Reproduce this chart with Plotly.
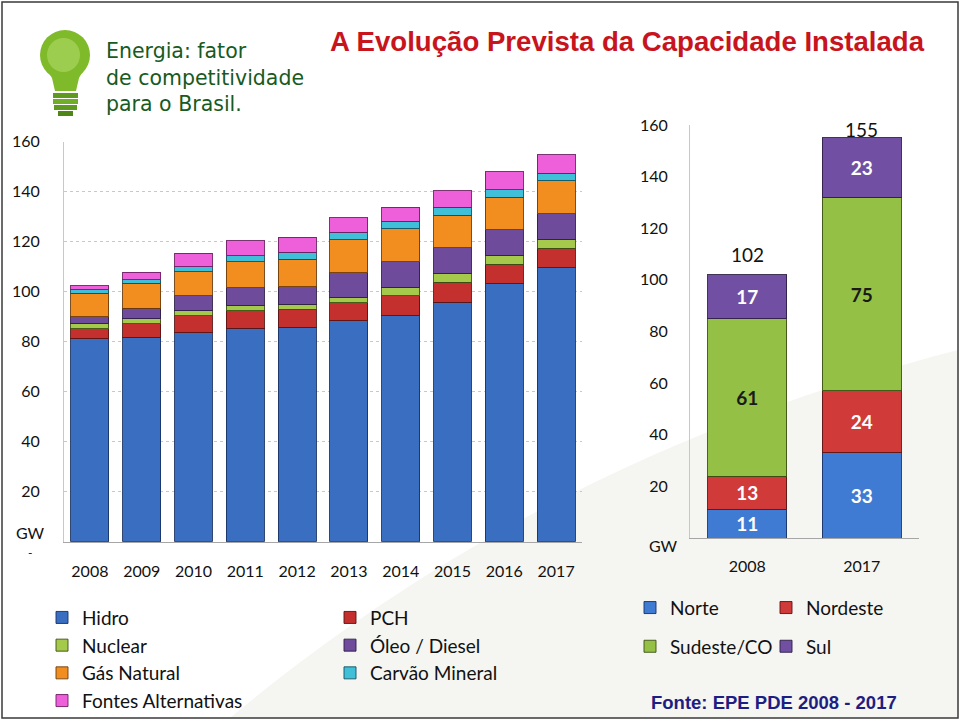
import plotly.graph_objects as go

# ---------------- data ----------------
years = ["2008", "2009", "2010", "2011", "2012", "2013", "2014", "2015", "2016", "2017"]
hidro = [81.1, 81.7, 83.6, 85.3, 85.8, 88.3, 90.4, 95.8, 103.1, 109.6]
pch = [4.0, 5.4, 6.7, 7.0, 7.2, 7.3, 8.0, 8.0, 7.9, 7.8]
nuclear = [2.0, 2.0, 2.0, 2.0, 2.0, 2.0, 3.4, 3.4, 3.4, 3.4]
oleo_diesel = [2.9, 4.2, 6.0, 7.3, 7.0, 10.0, 10.2, 10.4, 10.3, 10.4]
gas_natural = [9.3, 10.1, 9.7, 10.4, 11.0, 13.2, 13.1, 12.9, 13.1, 13.1]
carvao = [1.4, 1.4, 2.0, 2.4, 2.8, 3.0, 3.1, 3.3, 2.9, 3.0]
alternativas = [1.7, 2.9, 5.3, 5.9, 6.0, 5.8, 5.6, 6.6, 7.3, 7.4]

region_years = ["2008", "2017"]
norte = [11, 33]
nordeste = [13, 24]
sudeste_co = [61, 75]
sul = [17, 23]

y_ticks = [0, 20, 40, 60, 80, 100, 120, 140, 160]
y_ticktext = ["", "20", "40", "60", "80", "100", "120", "140", "160"]

W, H = 960, 727
def px(x):
    return x / W
def py(y):
    return 1 - y / H

FONT = "Lato, 'Open Sans', sans-serif"
ARIAL = "'Liberation Sans', Arial, sans-serif"

fig = go.Figure()

# ---------------- left chart: stacked sources ----------------
left_series = [
    ("Hidro", hidro, "#3A6EC0", "legend", "rgba(25,50,100,0.9)"),
    ("PCH", pch, "#C4302E", "legend2", "rgba(90,20,20,0.9)"),
    ("Nuclear", nuclear, "#A4C94B", "legend", "rgba(60,80,20,0.9)"),
    ("Óleo / Diesel", oleo_diesel, "#6F4B9C", "legend2", "rgba(45,30,70,0.9)"),
    ("Gás Natural", gas_natural, "#F28E1F", "legend", "rgba(110,60,10,0.9)"),
    ("Carvão Mineral", carvao, "#3FBFD8", "legend2", "rgba(20,80,95,0.9)"),
    ("Fontes Alternativas", alternativas, "#EE5FDA", "legend", "rgba(110,30,100,0.9)"),
]
for name, vals, col, lg, lcol in left_series:
    fig.add_trace(go.Bar(
        x=years, y=vals, name=name, width=0.73,
        marker=dict(color=col, line=dict(color=lcol, width=1)),
        xaxis="x", yaxis="y", legend=lg, legendgroup=name,
        hovertemplate="%{x}: %{y} GW<extra>" + name + "</extra>",
    ))

# ---------------- right chart: stacked regions ----------------
right_series = [
    ("Norte", norte, "#3F7BD2", "legend3", "white", "rgba(25,50,100,0.9)"),
    ("Nordeste", nordeste, "#D03A38", "legend4", "white", "rgba(90,20,20,0.9)"),
    ("Sudeste/CO", sudeste_co, "#94C045", "legend3", "#1a1a1a", "rgba(60,80,20,0.9)"),
    ("Sul", sul, "#7150A3", "legend4", "white", "rgba(45,30,70,0.9)"),
]
for name, vals, col, lg, tcol, lcol in right_series:
    fig.add_trace(go.Bar(
        x=region_years, y=vals, name=name, width=0.69,
        marker=dict(color=col, line=dict(color=lcol, width=1)),
        text=[str(v) for v in vals], textposition="inside",
        insidetextanchor="middle", textangle=0, constraintext="none",
        textfont=dict(family=FONT, size=19, color=tcol, weight="bold"),
        xaxis="x2", yaxis="y2", legend=lg, legendgroup=name,
        hovertemplate="%{x}: %{y} GW<extra>" + name + "</extra>",
    ))

totals = [a + b + c + d for a, b, c, d in zip(norte, nordeste, sudeste_co, sul)]
total_shift = [20, 8]
annotations = []
for i, (tot, sh) in enumerate(zip(totals, total_shift)):
    annotations.append(dict(
        x=i, y=tot, xref="x2", yref="y2", text=str(tot), showarrow=False,
        xanchor="center", yanchor="middle",
        yshift=sh, font=dict(family=FONT, size=19, color="#111111"),
    ))

def txt(x, y, text, font, xanchor="center"):
    return dict(x=px(x), y=py(y), xref="paper", yref="paper", text=text,
                showarrow=False, xanchor=xanchor, yanchor="middle", font=font)

annotations += [
    txt(30, 532, "GW", dict(family=FONT, size=16, color="#111111")),
    txt(30, 552, "-", dict(family=FONT, size=12, color="#111111")),
    txt(663, 545, "GW", dict(family=FONT, size=16, color="#111111")),
    txt(328, 42, "<b>A Evolução Prevista da Capacidade Instalada</b>",
        dict(family=ARIAL, size=27.6, color="#C8141C"), "left"),
    txt(649, 702, "<b>Fonte: EPE PDE 2008 - 2017</b>",
        dict(family=ARIAL, size=18.5, color="#1E1E82"), "left"),
    txt(104, 77, "Energia: fator<br>de competitividade<br>para o Brasil.",
        dict(family="'DejaVu Sans', sans-serif", size=20.5, color="#175A22"), "left"),
]
annotations[-1]["align"] = "left"

def path(points):
    return "M " + " L ".join(f"{px(x):.5f},{py(y):.5f}" for x, y in points) + " Z"

shapes = [
    # faint background swoosh
    dict(type="path", xref="paper", yref="paper", layer="below", line=dict(width=0),
         fillcolor="#F5F5F1",
         path=f"M {px(230):.5f},{py(718):.5f} C {px(420):.5f},{py(560):.5f} {px(650):.5f},{py(430):.5f} {px(958):.5f},{py(350):.5f} L {px(958):.5f},{py(718):.5f} Z"),
    # bulb glass
    dict(type="circle", xref="paper", yref="paper", x0=px(40), x1=px(90), y0=py(80), y1=py(30),
         fillcolor="#7FBA2A", line=dict(width=0)),
    dict(type="path", xref="paper", yref="paper", fillcolor="#7FBA2A", line=dict(width=0),
         path=path([(42, 62), (52, 78), (55, 91), (76, 91), (79, 78), (88, 62)])),
    dict(type="circle", xref="paper", yref="paper", x0=px(47), x1=px(80), y0=py(72), y1=py(38),
         fillcolor="#A9D65E", opacity=0.7, line=dict(width=0)),
    # base
    dict(type="rect", xref="paper", yref="paper", x0=px(53), x1=px(78), y0=py(98), y1=py(93),
         fillcolor="#5E9A1E", line=dict(width=0)),
    dict(type="rect", xref="paper", yref="paper", x0=px(53), x1=px(78), y0=py(104), y1=py(99),
         fillcolor="#6FAE26", line=dict(width=0)),
    dict(type="rect", xref="paper", yref="paper", x0=px(54), x1=px(77), y0=py(110), y1=py(105),
         fillcolor="#5E9A1E", line=dict(width=0)),
    dict(type="rect", xref="paper", yref="paper", x0=px(58), x1=px(73), y0=py(116), y1=py(111),
         fillcolor="#4E8718", line=dict(width=0)),
    # outer frame
    dict(type="rect", xref="paper", yref="paper", x0=px(2), x1=px(958), y0=py(718), y1=py(2),
         line=dict(color="#3A3A3A", width=1.5), fillcolor="rgba(0,0,0,0)"),
]

axis_font = dict(family=FONT, size=16, color="#111111")
legend_common = dict(orientation="v", xanchor="left", yanchor="top",
                     bgcolor="rgba(0,0,0,0)", font=dict(family=FONT, size=19, color="#111111"),
                     itemclick=False, itemdoubleclick=False)

fig.update_layout(
    width=W, height=H,
    margin=dict(l=0, r=0, t=0, b=0, autoexpand=False),
    paper_bgcolor="white", plot_bgcolor="rgba(0,0,0,0)",
    barmode="stack",
    showlegend=True,
    xaxis=dict(domain=[px(64), px(582)], anchor="y", type="category",
               showline=True, linecolor="#A6A6A6", linewidth=1,
               ticks="outside", ticklen=15, tickcolor="rgba(0,0,0,0)",
               tickfont=axis_font, showgrid=False, range=[-0.5, 9.5]),
    yaxis=dict(domain=[py(541.7), py(141.7)], anchor="x", range=[0, 160],
               tickvals=y_ticks, ticktext=y_ticktext,
               showline=True, linecolor="#C8C8C8", linewidth=1,
               ticks="outside", ticklen=20, tickcolor="rgba(0,0,0,0)",
               tickfont=axis_font, showgrid=True, gridcolor="#C8C8C8",
               griddash="dot", gridwidth=1, zeroline=False),
    xaxis2=dict(domain=[px(690), px(919)], anchor="y2", type="category",
                showline=True, linecolor="#A6A6A6", linewidth=1,
                ticks="outside", ticklen=14, tickcolor="rgba(0,0,0,0)",
                tickfont=axis_font, showgrid=False, range=[-0.5, 1.5]),
    yaxis2=dict(domain=[py(538), py(125)], anchor="x2", range=[0, 160],
                tickvals=y_ticks, ticktext=y_ticktext,
                showline=True, linecolor="#C8C8C8", linewidth=1,
                ticks="outside", ticklen=18, tickcolor="rgba(0,0,0,0)",
                tickfont=axis_font, showgrid=False, zeroline=False),
    legend=dict(x=px(42), y=py(598.6), traceorder="normal", tracegroupgap=0, **legend_common),
    legend2=dict(x=px(330), y=py(598.6), traceorder="normal", tracegroupgap=0, **legend_common),
    legend3=dict(x=px(630), y=py(588.7), traceorder="grouped", tracegroupgap=11, **legend_common),
    legend4=dict(x=px(766), y=py(588.7), traceorder="grouped", tracegroupgap=11, **legend_common),
    annotations=annotations,
    shapes=shapes,
    hovermode="closest",
)

fig.write_html("out.html", config={"displayModeBar": False},
               post_script="document.body.style.margin='0';document.body.style.overflow='hidden';")
